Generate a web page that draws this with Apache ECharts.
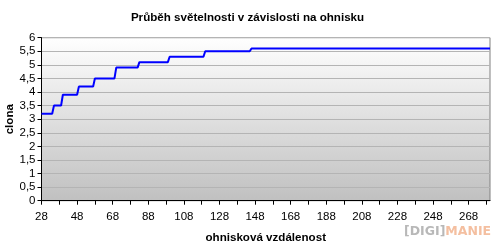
<!DOCTYPE html>
<html>
<head>
<meta charset="utf-8">
<script src="https://cdn.jsdelivr.net/npm/echarts@6/dist/echarts.min.js"></script>
<style>
html,body{margin:0;padding:0;background:#fff;}
#c{width:495px;height:247px;}
</style>
</head>
<body>
<div id="c"></div>
<script>
// breakpoints of the step curve: focal length (mm) and aperture (f-number)
var focal    = [28, 34, 35, 39, 40, 48, 49, 57, 58, 69, 70, 82, 83, 99, 100, 119, 120, 145, 146, 280];
var aperture = [3.2, 3.2, 3.5, 3.5, 3.9, 3.9, 4.2, 4.2, 4.5, 4.5, 4.9, 4.9, 5.1, 5.1, 5.3, 5.3, 5.5, 5.5, 5.6, 5.6];
var xTicks  = [28, 38, 48, 58, 68, 78, 88, 98, 108, 118, 128, 138, 148, 158, 168, 178, 188, 198, 208, 218, 228, 238, 248, 258, 268, 278];
var xLabels = [28, 48, 68, 88, 108, 128, 148, 168, 188, 208, 228, 248, 268];
var yMin = 0, yMax = 6, yStep = 0.5;

var pts = focal.map(function (f, i) { return [f, aperture[i]]; });
var FONT = 'Liberation Sans, Arial, sans-serif';

var chart = echarts.init(document.getElementById('c'), null, {renderer: 'canvas'});
chart.setOption({
  animation: false,
  title: {
    text: 'Průběh světelnosti v závislosti na ohnisku',
    left: 'center', top: 7,
    textStyle: {fontFamily: FONT, fontSize: 11.6, fontWeight: 'bold', color: '#000'}
  },
  grid: {
    left: 41.5, right: 5, top: 37.7, bottom: 46.3,
    containLabel: false,
    outerBoundsMode: 'none',
    show: true,
    borderColor: '#808080', borderWidth: 1,
    backgroundColor: new echarts.graphic.LinearGradient(0, 0, 0, 1, [
      {offset: 0, color: '#ffffff'},
      {offset: 1, color: '#c0c0c0'}
    ])
  },
  xAxis: {
    type: 'value', min: 28, max: 280,
    name: 'ohnisková vzdálenost', nameLocation: 'middle', nameGap: 31,
    nameMoveOverlap: false,
    nameTextStyle: {fontFamily: FONT, fontSize: 11.6, fontWeight: 'bold', color: '#000'},
    axisLine: {show: true, lineStyle: {color: '#000', width: 1}},
    axisTick: {show: true, length: 4, inside: false, customValues: xTicks, lineStyle: {color: '#000'}},
    axisLabel: {customValues: xLabels, fontFamily: FONT, fontSize: 11.5, color: '#000', margin: 10},
    splitLine: {show: false}
  },
  yAxis: {
    type: 'value', min: yMin, max: yMax, interval: yStep,
    name: 'clona', nameLocation: 'middle', nameGap: 26, nameRotate: 90,
    nameMoveOverlap: false,
    nameTextStyle: {fontFamily: FONT, fontSize: 11.6, fontWeight: 'bold', color: '#000'},
    axisLine: {show: true, lineStyle: {color: '#000', width: 1}},
    axisTick: {show: true, length: 4, inside: false, lineStyle: {color: '#000'}},
    axisLabel: {
      fontFamily: FONT, fontSize: 11.5, color: '#000', margin: 6,
      formatter: function (v) { return String(v).replace('.', ','); }
    },
    splitLine: {show: true, lineStyle: {color: '#b4b4b4', width: 1}}
  },
  series: [{
    type: 'line',
    data: pts,
    showSymbol: false,
    lineStyle: {color: '#0000ff', width: 2},
    itemStyle: {color: '#0000ff'}
  }],
  graphic: [{
    type: 'text',
    left: 404, top: 225,
    style: {
      text: '{d|[DIGI]}{m|MANIE}',
      rich: {
        d: {fontFamily: 'DejaVu Sans', fontSize: 12.5, fontWeight: 'bold', fill: '#b8b8b8'},
        m: {fontFamily: 'DejaVu Sans', fontSize: 12.5, fontWeight: 'bold', fill: '#f4bfa0'}
      }
    }
  }]
});
</script>
</body>
</html>
